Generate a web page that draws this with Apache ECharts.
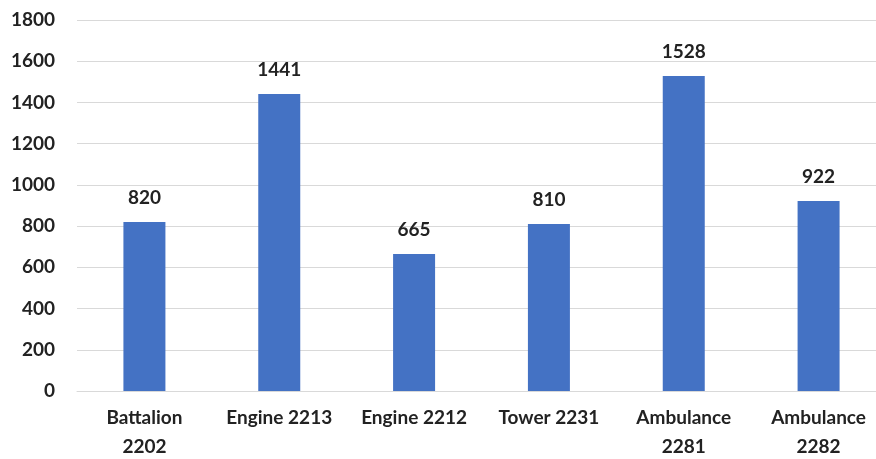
<!DOCTYPE html>
<html>
<head>
<meta charset="utf-8">
<script src="https://cdn.jsdelivr.net/npm/echarts@6/dist/echarts.min.js"></script>
<style>
  html, body { margin: 0; padding: 0; background: #fff; }
  #chart { width: 876px; height: 459px; }
</style>
</head>
<body>
<div id="chart"></div>
<script>
const categories = ['Battalion\n2202', 'Engine 2213', 'Engine 2212', 'Tower 2231', 'Ambulance\n2281', 'Ambulance\n2282'];
const values = [820, 1441, 665, 810, 1528, 922];
const yTicks = { min: 0, max: 1800, interval: 200 };

const chart = echarts.init(document.getElementById('chart'));
const font = 'Lato, "Open Sans", sans-serif';

chart.setOption({
  animation: false,
  grid: { left: 77, width: 809, top: 20, bottom: 68, outerBoundsMode: 'none', containLabel: false },
  xAxis: {
    type: 'category',
    data: categories,
    axisLine: { lineStyle: { color: '#d9d9d9', width: 1 } },
    axisTick: { show: false },
    axisLabel: {
      color: '#222', fontSize: 19, fontWeight: 'bold', fontFamily: font,
      margin: 12, lineHeight: 29, interval: 0
    }
  },
  yAxis: {
    type: 'value',
    min: yTicks.min, max: yTicks.max, interval: yTicks.interval,
    axisLine: { show: false },
    axisTick: { show: false },
    splitLine: { lineStyle: { color: '#d9d9d9', width: 1 } },
    axisLabel: {
      color: '#222', fontSize: 19, fontWeight: 'bold', fontFamily: font, margin: 22,
      formatter: v => String(v)
    }
  },
  series: [{
    type: 'bar',
    data: values,
    barWidth: 42,
    itemStyle: { color: '#4472C4' },
    label: {
      show: true, position: 'top', distance: 15,
      color: '#222', fontSize: 19, fontWeight: 'bold', fontFamily: font
    }
  }]
});
</script>
</body>
</html>
